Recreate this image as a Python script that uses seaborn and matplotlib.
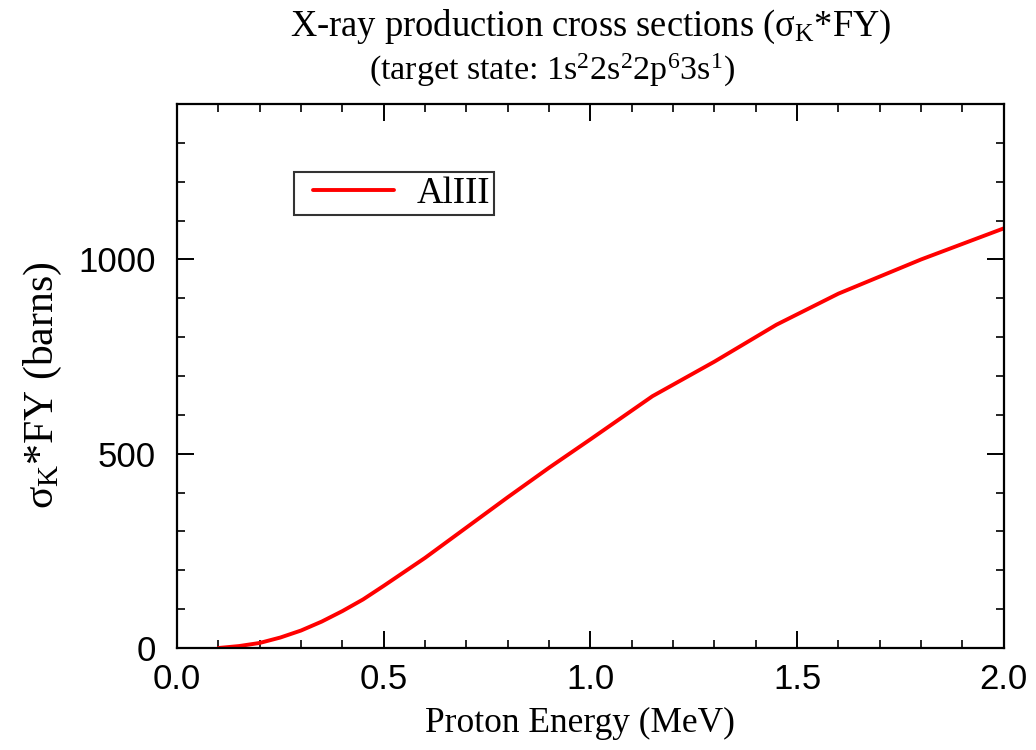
import matplotlib
matplotlib.use("Agg")
import matplotlib.pyplot as plt
from matplotlib.ticker import MultipleLocator
from matplotlib.legend_handler import HandlerLine2D
from matplotlib.lines import Line2D
import pandas as pd
import seaborn as sns

# Proton energy (MeV) and K-shell x-ray production cross section (barns)
energy = [0.10, 0.15, 0.20, 0.25, 0.30, 0.35, 0.40, 0.45, 0.50, 0.60,
          0.70, 0.80, 0.90, 1.00, 1.15, 1.30, 1.45, 1.60, 1.80, 2.00]
sigma_fy = [0, 5, 13, 27, 45, 68, 95, 125, 160, 232,
            310, 388, 464, 537, 648, 737, 832, 912, 1000, 1080]
series = ["AlIII"] * len(energy)

df = pd.DataFrame({"energy": energy, "sigma": sigma_fy, "ion": series})

sns.set_style("ticks")
plt.rcParams["font.family"] = ["Liberation Sans", "DejaVu Sans"]
plt.rcParams["text.color"] = "black"
plt.rcParams["axes.labelcolor"] = "black"
plt.rcParams["mathtext.fontset"] = "custom"
plt.rcParams["mathtext.rm"] = "Liberation Serif"
plt.rcParams["mathtext.it"] = "Liberation Serif:italic"
plt.rcParams["mathtext.default"] = "rm"

fig = plt.figure(figsize=(10.36, 7.5), dpi=100)
ax = fig.add_axes([0.1709, 0.136, 0.798, 0.7253])

sns.lineplot(data=df, x="energy", y="sigma", hue="ion", palette=["#ff0000"],
             linewidth=2.8, ax=ax)

ax.set_xlim(0, 2.0)
ax.set_ylim(0, 1400)
ax.xaxis.set_major_locator(MultipleLocator(0.5))
ax.xaxis.set_minor_locator(MultipleLocator(0.1))
ax.yaxis.set_major_locator(MultipleLocator(500))
ax.yaxis.set_minor_locator(MultipleLocator(100))
ax.xaxis.set_major_formatter(matplotlib.ticker.FormatStrFormatter("%.1f"))

ax.tick_params(which="both", direction="in", top=True, right=True,
               colors="black", labelsize=25)
ax.tick_params(which="major", length=12, width=1.4)
ax.tick_params(which="minor", length=6, width=1.2)
ax.tick_params(axis="x", which="major", pad=11)
ax.tick_params(axis="y", which="major", pad=15.5)
for sp in ax.spines.values():
    sp.set_linewidth(1.6)
    sp.set_color("black")

serif = ["Liberation Serif", "DejaVu Serif"]
ax.set_xlabel("Proton Energy (MeV)", family=serif, fontsize=25.5, labelpad=8)
ax.set_ylabel(r"$\sigma_{\rm K}$*FY (barns)", family=serif, fontsize=30, labelpad=10)
ax.xaxis.label.set_x(0.487)
ax.yaxis.label.set_y(0.4835)

fig.text(0.5705, 0.952, r"X-ray production cross sections ($\sigma_{\rm K}$*FY)",
         family=serif, fontsize=26.3, ha="center", va="baseline")
fig.text(0.533, 0.893, r"(target state: 1s$^2$2s$^2$2p$^6$3s$^1$)",
         family=serif, fontsize=24.5, ha="center", va="baseline")

handles, labels = ax.get_legend_handles_labels()
leg = ax.legend(handles, labels, loc="upper left", bbox_to_anchor=(0.1415, 0.875),
                borderaxespad=0, frameon=True, fancybox=False,
                prop={"family": serif, "size": 26.5}, handlelength=2.6,
                handletextpad=0.6, borderpad=0.12,
                handler_map={Line2D: HandlerLine2D(xpad=0.4)})
leg.get_frame().set_edgecolor("black")
leg.get_frame().set_linewidth(1.5)
for line in leg.get_lines():
    line.set_linewidth(2.8)

fig.savefig("out.png", dpi=100, facecolor="white")
